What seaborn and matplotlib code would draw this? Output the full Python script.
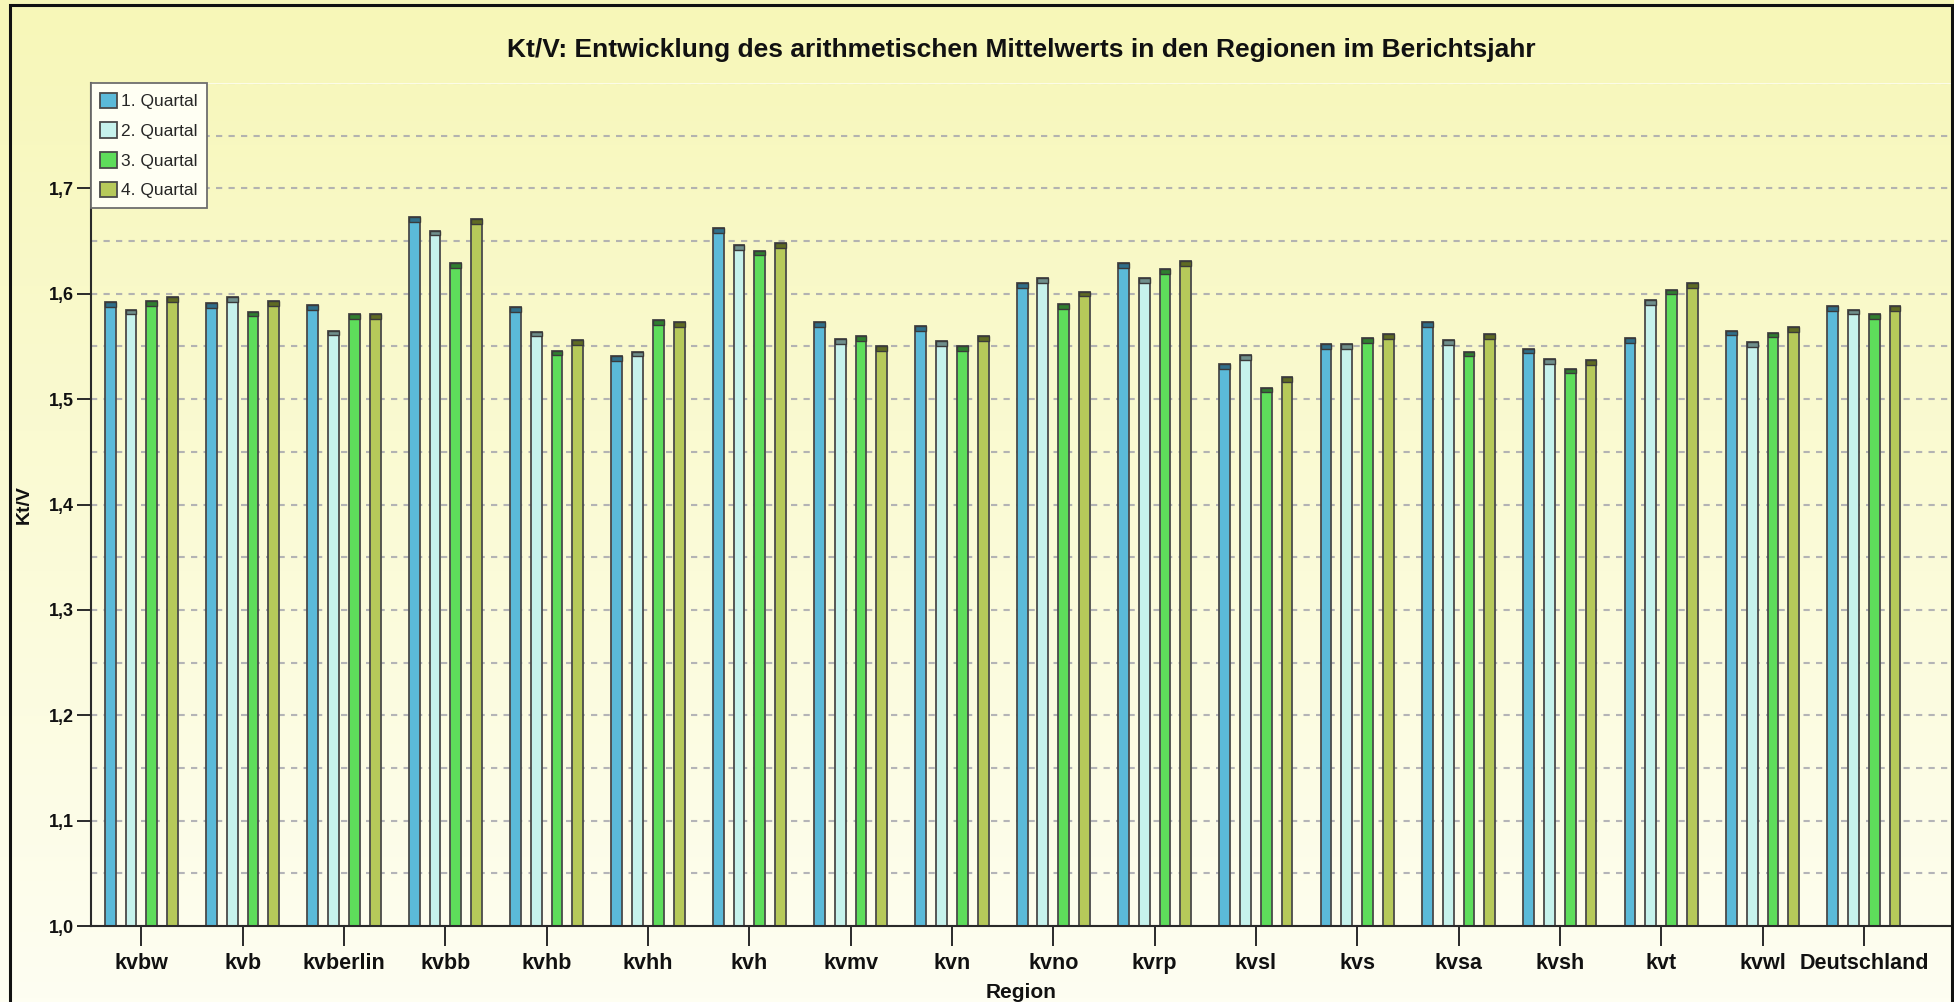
import matplotlib
matplotlib.use('Agg')
import matplotlib.pyplot as plt
from matplotlib.patches import Rectangle
from matplotlib.ticker import FuncFormatter, MultipleLocator
import numpy as np
import pandas as pd
import seaborn as sns

# Data
regions = ['kvbw', 'kvb', 'kvberlin', 'kvbb', 'kvhb', 'kvhh', 'kvh', 'kvmv', 'kvn',
           'kvno', 'kvrp', 'kvsl', 'kvs', 'kvsa', 'kvsh', 'kvt', 'kvwl', 'Deutschland']
quarters = ['1. Quartal', '2. Quartal', '3. Quartal', '4. Quartal']
q1 = [1.592, 1.591, 1.589, 1.673, 1.587, 1.541, 1.662, 1.573, 1.569,
      1.610, 1.629, 1.533, 1.552, 1.573, 1.548, 1.558, 1.565, 1.588]
q2 = [1.585, 1.597, 1.565, 1.660, 1.564, 1.545, 1.646, 1.557, 1.555,
      1.615, 1.615, 1.542, 1.552, 1.556, 1.538, 1.594, 1.554, 1.585]
q3 = [1.593, 1.583, 1.581, 1.629, 1.546, 1.575, 1.641, 1.560, 1.550,
      1.590, 1.623, 1.511, 1.558, 1.545, 1.529, 1.604, 1.563, 1.581]
q4 = [1.597, 1.593, 1.581, 1.671, 1.556, 1.573, 1.648, 1.550, 1.560,
      1.602, 1.631, 1.521, 1.562, 1.562, 1.537, 1.610, 1.568, 1.588]
y_ticks = [1.0, 1.1, 1.2, 1.3, 1.4, 1.5, 1.6, 1.7]

bar_colors = ['#5BBAD9', '#C6F2EC', '#5EDD5B', '#B6C95A']
cap_colors = ['#2F6F8A', '#6F8F8C', '#2F7F2F', '#5F6B23']

df = pd.DataFrame({
    'Region': regions * 4,
    'KtV': q1 + q2 + q3 + q4,
    'Quartal': [q for q in quarters for _ in regions],
})

sns.set_theme(style='white')
plt.rcParams['font.family'] = ['Liberation Sans', 'DejaVu Sans']

fig = plt.figure(figsize=(19.54, 10.02), dpi=100)

# Yellow to white background gradient over whole figure
bg = fig.add_axes([0, 0, 1, 1], zorder=-10)
top_c = np.array([247, 247, 184]) / 255
bot_c = np.array([254, 254, 242]) / 255
t = np.linspace(0, 1, 256)[:, None]
grad = (top_c[None, :] * (1 - t) + bot_c[None, :] * t)[:, None, :]
bg.imshow(grad, aspect='auto', extent=[0, 1, 0, 1])
bg.axis('off')

ax = fig.add_axes([0.0464, 0.0758, 0.9526, 0.8414])
ax.set_facecolor('none')

sns.barplot(data=df, x='Region', y='KtV', hue='Quartal', palette=bar_colors,
            width=0.82, gap=0.48, edgecolor='#4A4A4A', linewidth=1.3,
            saturation=1, ax=ax, zorder=3)

# Darker "cylinder" caps on the top of each bar
bars = [p for p in ax.patches if p.get_height() > 0.5]
for i, p in enumerate(bars):
    k = min(i // len(regions), 3)
    cap = 0.0045
    ax.add_patch(Rectangle((p.get_x(), p.get_height() - cap), p.get_width(), cap,
                           facecolor=cap_colors[k], edgecolor='#3A3A3A',
                           linewidth=1.0, zorder=4))

ax.set_ylim(1.0, 1.8)
ax.set_xlim(-0.5, 17.87)
ax.set_yticks(y_ticks)
ax.yaxis.set_minor_locator(MultipleLocator(0.05))
ax.yaxis.set_major_formatter(FuncFormatter(lambda v, p: f'{v:.1f}'.replace('.', ',')))

ax.grid(which='both', axis='y', color='#A2A2AC', linestyle=(0, (3, 3)), linewidth=1.5, alpha=0.8, zorder=1)
ax.axhline(1.8, color='#FCFCE8', linewidth=1.5, zorder=2)

for s in ['top', 'right']:
    ax.spines[s].set_visible(False)
for s in ['left', 'bottom']:
    ax.spines[s].set_color('#2A2A2A')
    ax.spines[s].set_linewidth(1.5)
    ax.spines[s].set_zorder(5)

ax.tick_params(axis='x', which='major', bottom=True, length=14.4, width=1.4, color='#2A2A2A',
               pad=5, labelsize=15.5)
ax.tick_params(axis='y', which='major', left=True, length=10, width=1.4, color='#2A2A2A',
               pad=2, labelsize=13)
ax.tick_params(axis='y', which='minor', left=False, length=0)
for lbl in ax.get_xticklabels() + ax.get_yticklabels():
    lbl.set_fontweight('bold')
    lbl.set_color('#111111')

ax.set_xlabel('Region', fontsize=15, fontweight='bold', color='#111111')
ax.xaxis.set_label_coords(0.5, -0.068)
ax.set_ylabel('Kt/V', fontsize=14, fontweight='bold', color='#111111')
ax.yaxis.set_label_coords(-0.031, 0.5)

fig.text(0.5225, 0.950, 'Kt/V: Entwicklung des arithmetischen Mittelwerts in den Regionen im Berichtsjahr',
         ha='center', va='center', fontsize=19, fontweight='bold', color='#111111')

handles, labels = ax.get_legend_handles_labels()
leg = ax.legend(handles, labels, loc='upper left', bbox_to_anchor=(0, 1), borderaxespad=0,
                fontsize=12.5, frameon=True, fancybox=False, facecolor='#FFFFF3',
                edgecolor='#6E6E6E', framealpha=1, handlelength=0.95, handleheight=1.0,
                handletextpad=0.25, labelspacing=0.75, borderpad=0.55)
leg.get_frame().set_linewidth(1.3)
leg.set_zorder(10)
for h in leg.legend_handles:
    h.set_edgecolor('#4A4A4A')
    h.set_linewidth(1.3)

# Outer frame of the picture
fig.add_artist(Rectangle((10 / 1954, -0.02), 1942 / 1954, 1.02 - 5 / 1002, transform=fig.transFigure,
                         fill=False, edgecolor='#111111', linewidth=2.2, zorder=20))

fig.savefig('out.png', dpi=100)
